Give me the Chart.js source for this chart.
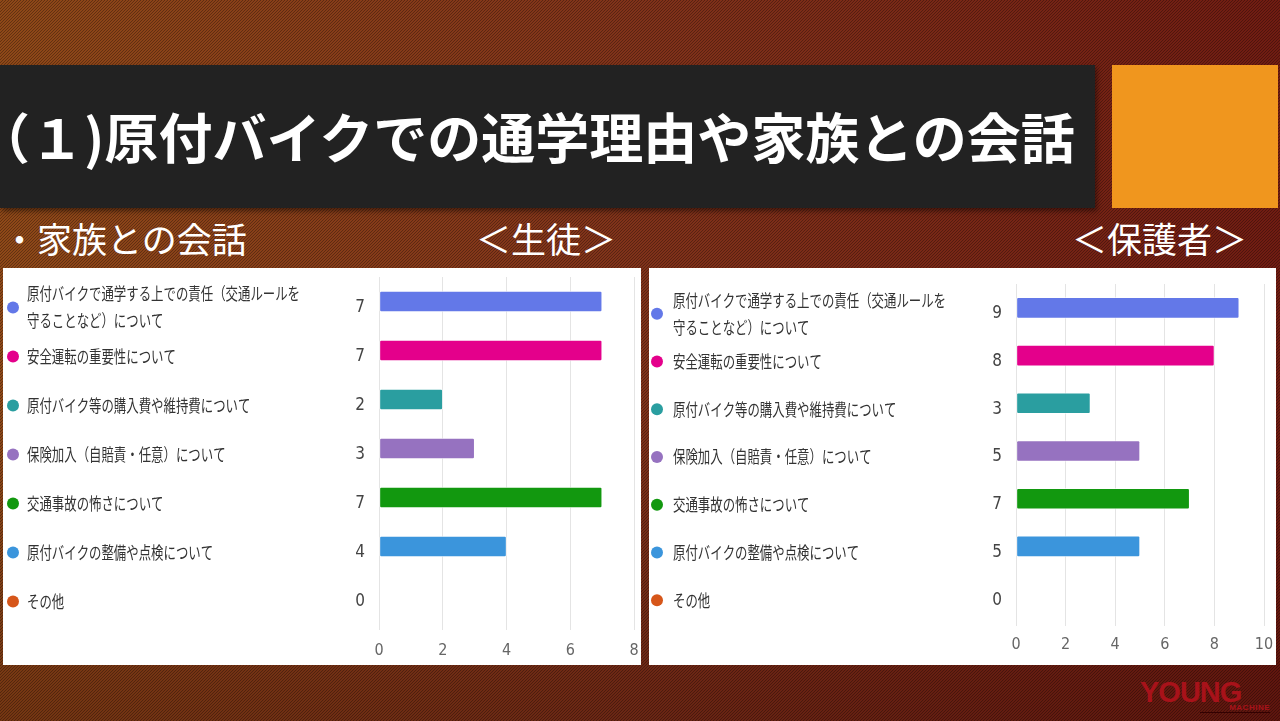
<!DOCTYPE html>
<html lang="ja">
<head>
<meta charset="utf-8">
<script src="https://cdn.jsdelivr.net/npm/chart.js@4/dist/chart.umd.min.js"></script>
<style>
  html, body { margin: 0; padding: 0; }
  body {
    width: 1280px; height: 721px; overflow: hidden; position: relative;
    font-family: 'Noto Sans CJK JP', sans-serif;
    background:
      url("data:image/svg+xml;utf8,<svg xmlns='http://www.w3.org/2000/svg' width='3' height='3'><path d='M-1,1 l2,-2 M0,3 l3,-3 M2,4 l2,-2' stroke='black' stroke-opacity='0.3' stroke-width='1'/></svg>"),
      linear-gradient(180deg, rgba(0,0,0,0) 55%, rgba(40,0,0,0.25) 100%),
      linear-gradient(90deg, #8e4818 0%, #80321a 50%, #701c12 100%);
  }
  .titlebar {
    position: absolute; left: 0; top: 65px; width: 1095px; height: 143px;
    background: #222; box-shadow: 2px 3px 5px rgba(0,0,0,0.45); overflow: hidden;
  }
  .titlebar span {
    position: absolute; left: -24px; top: 44px; color: #fff;
    font-size: 54px; font-weight: 700; line-height: 1; white-space: nowrap;
  }
  .orange { position: absolute; left: 1112px; top: 65px; width: 166px; height: 143px; background: #f0961e; }
  .sub { position: absolute; color: #fff; font-size: 35px; line-height: 1; white-space: nowrap; }
  .panel { position: absolute; background: #fff; }
  .panel canvas { position: absolute; left: 0; top: 0; }
  .logo {
    position: absolute; left: 1140px; top: 676px; color: #a8121a;
    font: 900 29px 'Liberation Sans', sans-serif; letter-spacing: -1px;
  }
  .logo small {
    position: absolute; left: 60px; top: 27px; font-size: 8px; letter-spacing: 0.5px;
    border-bottom: 1px solid #300; width: 70px; text-align: right;
  }
</style>
</head>
<body>
<div class="titlebar"><span>（１)原付バイクでの通学理由や家族との会話</span></div>
<div class="orange"></div>
<div class="sub" style="left:2px; top:220px;">・家族との会話</div>
<div class="sub" style="left:476px; top:220px;">＜生徒＞</div>
<div class="sub" style="left:1072px; top:220px;">＜保護者＞</div>

<div class="panel" style="left:3px; top:268px; width:638px; height:397px;">
  <canvas id="studentChart" width="638" height="397"></canvas>
</div>
<div class="panel" style="left:649px; top:268px; width:627px; height:397px;">
  <canvas id="parentChart" width="627" height="397"></canvas>
</div>
<div class="logo">YOUNG<small>MACHINE</small></div>

<script>
const categories = [
  ['原付バイクで通学する上での責任（交通ルールを', '守ることなど）について'],
  '安全運転の重要性について',
  '原付バイク等の購入費や維持費について',
  '保険加入（自賠責・任意）について',
  '交通事故の怖さについて',
  '原付バイクの整備や点検について',
  'その他'
];
const studentValues = [7, 7, 2, 3, 7, 4, 0];
const parentValues  = [9, 8, 3, 5, 7, 5, 0];
const studentMax = 8;
const parentMax  = 10;
const barColors = ['#6378e8', '#e4008b', '#2a9ea0', '#9672c0', '#12980f', '#3b95dc', '#d6561a'];

const LABEL_FONT = "'Noto Sans CJK JP', sans-serif";
const NUM_FONT = "'Liberation Sans Narrow', 'DejaVu Sans Condensed', 'Liberation Sans', sans-serif";

// draws the coloured dot + condensed label text at the left of each row
const rowLabels = {
  id: 'rowLabels',
  afterDraw(chart, args, opts) {
    const ctx = chart.ctx;
    const y = chart.scales.y;
    ctx.save();
    ctx.font = `17px ${LABEL_FONT}`;
    ctx.textBaseline = 'middle';
    categories.forEach((lab, i) => {
      const cy = y.getPixelForValue(i) + opts.shift;
      ctx.beginPath();
      ctx.arc(opts.dotX, cy, 6, 0, Math.PI * 2);
      ctx.fillStyle = barColors[i];
      ctx.fill();
      ctx.fillStyle = '#333';
      const lines = Array.isArray(lab) ? lab : [lab];
      const lh = 27;
      lines.forEach((t, k) => {
        const ly = cy + (k - (lines.length - 1) / 2) * lh;
        ctx.save();
        ctx.translate(opts.textX, ly);
        ctx.scale(0.73, 1);
        ctx.fillText(t, 0, 0);
        ctx.restore();
      });
    });
    ctx.restore();
  }
};

function makeChart(id, values, max, o) {
  return new Chart(document.getElementById(id), {
    type: 'bar',
    data: {
      labels: categories.map(c => Array.isArray(c) ? c.join('') : c),
      datasets: [{
        data: values,
        backgroundColor: barColors,
        borderColor: 'rgba(255,255,255,0.6)',
        borderWidth: 1,
        borderRadius: 2,
        borderSkipped: false,
        barThickness: 21
      }]
    },
    plugins: [rowLabels],
    options: {
      indexAxis: 'y',
      responsive: false,
      animation: false,
      layout: { padding: { top: o.top, right: o.right, left: 0, bottom: 0 } },
      plugins: {
        legend: { display: false },
        tooltip: { enabled: false },
        rowLabels: { dotX: o.dotX, textX: o.textX, shift: 6 }
      },
      scales: {
        x: {
          min: 0, max: max,
          grid: { color: '#e4e4e4', tickLength: o.tickLen, tickColor: '#e4e4e4' },
          border: { display: false },
          ticks: {
            stepSize: 2, padding: o.tickPad,
            font: { family: NUM_FONT, size: 16 }, color: '#666'
          },
          afterFit: s => { s.height = o.axisH; s.paddingLeft = 0; s.paddingRight = 0; }
        },
        y: {
          grid: { display: false },
          border: { display: false },
          ticks: {
            padding: 6, labelOffset: 6,
            font: { family: NUM_FONT, size: 17 }, color: '#444',
            callback: (v, i) => values[i]
          },
          afterFit: s => { s.width = o.axisW; s.paddingTop = 0; s.paddingBottom = 0; }
        }
      }
    }
  });
}

makeChart('studentChart', studentValues, studentMax,
  { top: 9, right: 7, axisW: 376, axisH: 45, tickLen: 10, tickPad: 11, dotX: 10, textX: 24 });
makeChart('parentChart', parentValues, parentMax,
  { top: 16, right: 12, axisW: 367, axisH: 47, tickLen: 8, tickPad: 9, dotX: 8, textX: 24 });
</script>
</body>
</html>
